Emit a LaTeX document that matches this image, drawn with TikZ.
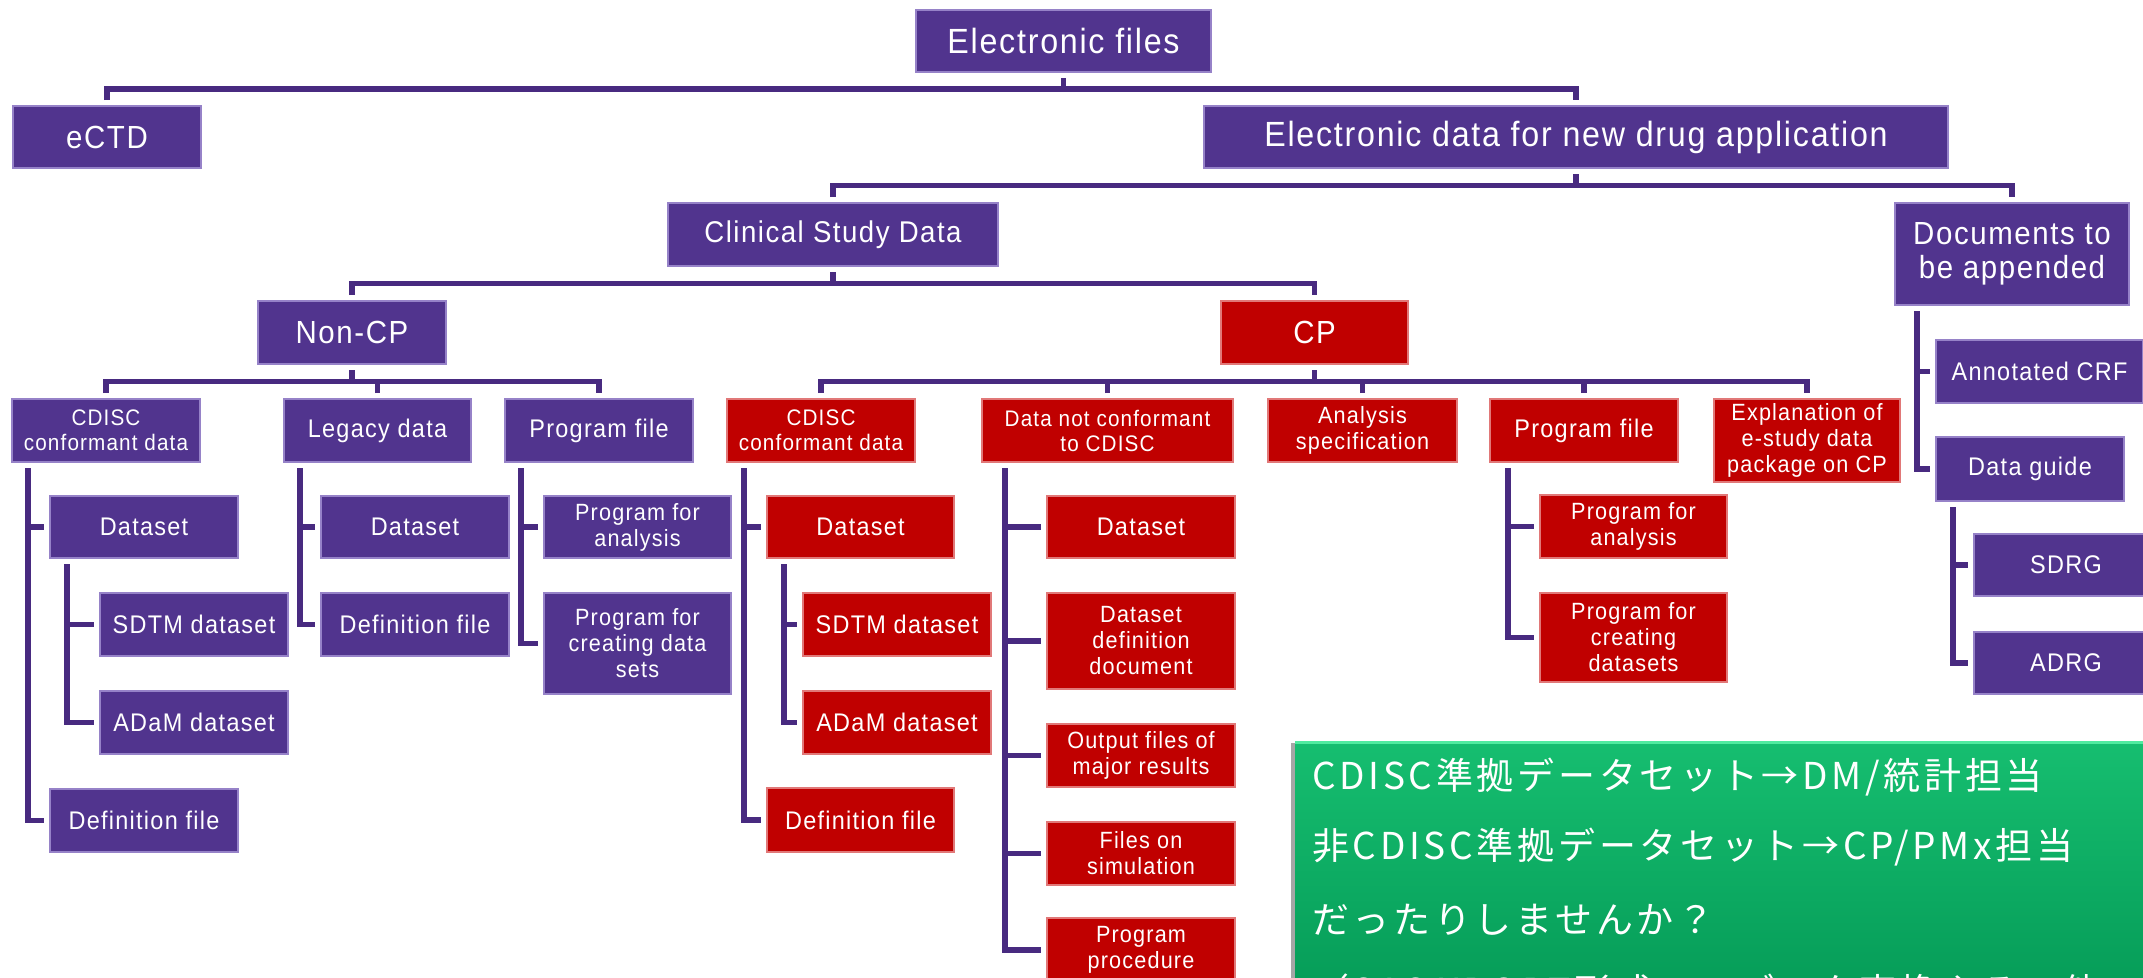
\documentclass[tikz,border=0pt]{standalone}
\usepackage{fontspec}
\setmainfont{Liberation Sans}[LetterSpace=5,FakeStretch=0.92]
\newfontfamily\cjk{Noto Sans CJK JP}[LetterSpace=10]
\usetikzlibrary{calc}
\definecolor{boxpurple}{RGB}{81,52,142}
\definecolor{pborder}{RGB}{150,130,200}
\definecolor{boxred}{RGB}{192,0,0}
\definecolor{rborder}{RGB}{225,120,120}
\definecolor{connc}{RGB}{72,42,128}
\definecolor{gtop}{RGB}{22,190,112}
\definecolor{gbot}{RGB}{5,155,87}
\definecolor{ghi}{RGB}{80,235,160}
\newcommand{\fsz}[2]{\fontsize{#1}{#2}\selectfont}
\begin{document}
\begin{tikzpicture}[x=1pt,y=-1pt,
  pbox/.style={fill=boxpurple,draw=pborder,line width=1.2pt,text=white,inner sep=0pt,outer sep=0pt,anchor=north west,align=center},
  rbox/.style={pbox,fill=boxred,draw=rborder},
  conn/.style={draw=connc,line width=5.5pt},
  fbig/.style={font=\fsz{35}{38}},
  fmid/.style={font=\fsz{32}{34}},
  fmed/.style={font=\fsz{30}{32}},
  fsm/.style={font=\fsz{25.5}{27}},
  fxs/.style={font=\fsz{23.5}{26}},
  fcd/.style={font=\fsz{22.5}{25}},
  jtext/.style={text=white,anchor=west,inner sep=0pt,font=\cjk\fsz{37}{40}},
]
\clip (0,0) rectangle (2143,977);
\fill[white] (0,0) rectangle (2143,977);

% level 0-2
\node[pbox,fbig,minimum width=295pt,minimum height=62pt] (EF) at (916,10) {Electronic files};
\node[pbox,fmid,minimum width=188pt,minimum height=62pt] (eCTD) at (13,106) {eCTD};
\node[pbox,fbig,minimum width=744pt,minimum height=62pt] (EDNDA) at (1204,106) {Electronic data for new drug application};
\node[pbox,fmed,minimum width=330pt,minimum height=63pt] (CSD) at (668,203) {Clinical Study Data};
\node[pbox,fmid,minimum width=234pt,minimum height=102pt] (Docs) at (1895,203) {Documents to\\be appended};
\node[pbox,fmid,minimum width=188pt,minimum height=63pt] (NonCP) at (258,301) {Non-CP};
\node[rbox,fmid,minimum width=187pt,minimum height=63pt] (CP) at (1221,301) {CP};

% level 3
\node[pbox,fcd,minimum width=188pt,minimum height=63pt] (CDISCp) at (12,399) {CDISC\\conformant data};
\node[pbox,fsm,minimum width=187pt,minimum height=63pt] (Legacy) at (284,399) {Legacy data};
\node[pbox,fsm,minimum width=188pt,minimum height=63pt] (Progp) at (505,399) {Program file};
\node[rbox,fcd,minimum width=188pt,minimum height=63pt] (CDISCr) at (727,399) {CDISC\\conformant data};
\node[rbox,fcd,minimum width=251pt,minimum height=63pt] (DNC) at (982,399) {Data not conformant\\to CDISC};
\node[rbox,fxs,minimum width=189pt,minimum height=63pt] (Anal) at (1268,399) {Analysis\\specification};
\node[rbox,fsm,minimum width=188pt,minimum height=63pt] (Progr) at (1490,399) {Program file};
\node[rbox,fxs,minimum width=186pt,minimum height=83pt] (Expl) at (1714,399) {Explanation of\\e-study data\\package on CP};

% docs children
\node[pbox,fsm,minimum width=207pt,minimum height=63pt] (AnnCRF) at (1936,340) {Annotated CRF};
\node[pbox,fsm,minimum width=188pt,minimum height=64pt] (DGuide) at (1936,437) {Data guide};
\node[pbox,fsm,minimum width=184pt,minimum height=62pt] (SDRG) at (1974,534) {SDRG};
\node[pbox,fsm,minimum width=184pt,minimum height=62pt] (ADRG) at (1974,632) {ADRG};

% non-CP children
\node[pbox,fsm,minimum width=188pt,minimum height=62pt] (DS1) at (50,496) {Dataset};
\node[pbox,fsm,minimum width=188pt,minimum height=63pt] (SDTM1) at (100,593) {SDTM dataset};
\node[pbox,fsm,minimum width=188pt,minimum height=63pt] (ADaM1) at (100,691) {ADaM dataset};
\node[pbox,fsm,minimum width=188pt,minimum height=63pt] (Def1) at (50,789) {Definition file};
\node[pbox,fsm,minimum width=188pt,minimum height=62pt] (LDS) at (321,496) {Dataset};
\node[pbox,fsm,minimum width=188pt,minimum height=63pt] (LDef) at (321,593) {Definition file};
\node[pbox,fxs,minimum width=187pt,minimum height=62pt] (PA1) at (544,496) {Program for\\analysis};
\node[pbox,fxs,minimum width=187pt,minimum height=101pt] (PC1) at (544,593) {Program for\\creating data\\sets};

% CP children
\node[rbox,fsm,minimum width=187pt,minimum height=62pt] (DS2) at (767,496) {Dataset};
\node[rbox,fsm,minimum width=188pt,minimum height=63pt] (SDTM2) at (803,593) {SDTM dataset};
\node[rbox,fsm,minimum width=188pt,minimum height=63pt] (ADaM2) at (803,691) {ADaM dataset};
\node[rbox,fsm,minimum width=187pt,minimum height=64pt] (Def2) at (767,788) {Definition file};
\node[rbox,fsm,minimum width=188pt,minimum height=62pt] (DDS) at (1047,496) {Dataset};
\node[rbox,fxs,minimum width=188pt,minimum height=96pt] (DDD) at (1047,593) {Dataset\\definition\\document};
\node[rbox,fxs,minimum width=188pt,minimum height=63pt] (OUT) at (1047,724) {Output files of\\major results};
\node[rbox,fxs,minimum width=188pt,minimum height=63pt] (SIM) at (1047,822) {Files on\\simulation};
\node[rbox,fxs,minimum width=188pt,minimum height=64pt] (PROC) at (1047,918) {Program\\procedure};
\node[rbox,fxs,minimum width=187pt,minimum height=63pt] (PA2) at (1540,495) {Program for\\analysis};
\node[rbox,fxs,minimum width=187pt,minimum height=89pt] (PC2) at (1540,593) {Program for\\creating\\datasets};

% bus coordinates
\coordinate (bEF) at ($(EF.south)!0.5!(EF.south |- eCTD.north)$);
\coordinate (bED) at ($(EDNDA.south)!0.5!(EDNDA.south |- CSD.north)$);
\coordinate (bCSD) at ($(CSD.south)!0.5!(CSD.south |- NonCP.north)$);
\coordinate (bNC) at ($(NonCP.south)!0.5!(NonCP.south |- Legacy.north)$);
\coordinate (bCP) at ($(CP.south)!0.5!(CP.south |- DNC.north)$);

% tree connectors
\draw[conn] ([yshift=-6pt]EF.south) -- (bEF);
\draw[conn] ([yshift=6pt]eCTD.north) |- (bEF) -| ([yshift=6pt]EDNDA.north);

\draw[conn] ([yshift=-6pt]EDNDA.south) -- (bED);
\draw[conn] ([yshift=6pt]CSD.north) |- (bED) -| ([yshift=6pt]Docs.north);

\draw[conn] ([yshift=-6pt]CSD.south) -- (bCSD);
\draw[conn] ([yshift=6pt]NonCP.north) |- (bCSD) -| ([yshift=6pt]CP.north);

\draw[conn] ([yshift=-6pt]NonCP.south) -- (bNC);
\draw[conn] ([yshift=6pt]CDISCp.north) |- (bNC) -| ([yshift=6pt]Progp.north);
\draw[conn] ([yshift=6pt]Legacy.north) -- (Legacy.north |- bNC);

\draw[conn] ([yshift=-6pt]CP.south) -- (bCP);
\draw[conn] ([yshift=6pt]CDISCr.north) |- (bCP) -| ([yshift=6pt]Expl.north);
\draw[conn] ([yshift=6pt]DNC.north) -- (DNC.north |- bCP);
\draw[conn] ([yshift=6pt]Anal.north) -- (Anal.north |- bCP);
\draw[conn] ([yshift=6pt]Progr.north) -- (Progr.north |- bCP);

% side trunks
\foreach \c in {DS1,Def1}
  \draw[conn] ([xshift=16pt,yshift=-6pt]CDISCp.south west) |- ([xshift=-6pt]\c.west);
\foreach \c in {SDTM1,ADaM1}
  \draw[conn] ([xshift=17pt,yshift=-6pt]DS1.south west) |- ([xshift=-6pt]\c.west);
\foreach \c in {LDS,LDef}
  \draw[conn] ([xshift=16pt,yshift=-6pt]Legacy.south west) |- ([xshift=-6pt]\c.west);
\foreach \c in {PA1,PC1}
  \draw[conn] ([xshift=16pt,yshift=-6pt]Progp.south west) |- ([xshift=-6pt]\c.west);
\foreach \c in {DS2,Def2}
  \draw[conn] ([xshift=17pt,yshift=-6pt]CDISCr.south west) |- ([xshift=-6pt]\c.west);
\foreach \c in {SDTM2,ADaM2}
  \draw[conn] ([xshift=17pt,yshift=-6pt]DS2.south west) |- ([xshift=-6pt]\c.west);
\foreach \c in {DDS,DDD,OUT,SIM,PROC}
  \draw[conn] ([xshift=23pt,yshift=-6pt]DNC.south west) |- ([xshift=-6pt]\c.west);
\foreach \c in {PA2,PC2}
  \draw[conn] ([xshift=18pt,yshift=-6pt]Progr.south west) |- ([xshift=-6pt]\c.west);
\foreach \c in {AnnCRF,DGuide}
  \draw[conn] ([xshift=22pt,yshift=-6pt]Docs.south west) |- ([xshift=-6pt]\c.west);
\foreach \c in {SDRG,ADRG}
  \draw[conn] ([xshift=17pt,yshift=-6pt]DGuide.south west) |- ([xshift=-6pt]\c.west);

% green comment box
\fill[black!35] (1291,743) rectangle (1296,1000);
\shade[top color=gtop,bottom color=gbot] (1295,741) rectangle (2160,1000);
\fill[ghi] (1295,741) rectangle (2160,744);
\node[jtext] (j1) at (1312,777) {CDISC準拠データセット→DM/統計担当};
\node[jtext] (j2) at (1312,847) {非CDISC準拠データセット→CP/PMx担当};
\node[jtext] (j3) at (1312,920) {だったりしませんか？};
\node[jtext] (j4) at (1312,991) {（SAS XPORT形式へのデータ変換やその他の一工夫も};
\end{tikzpicture}
\end{document}
